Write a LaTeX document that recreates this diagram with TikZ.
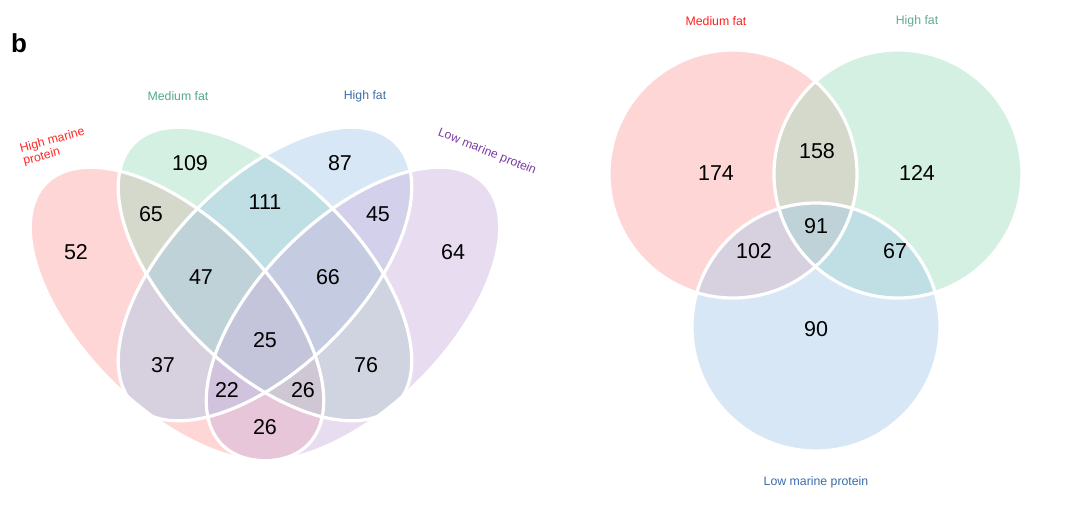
\documentclass[tikz,border=0pt]{standalone}
\usepackage{fontspec}
\setmainfont{Liberation Sans}
\usetikzlibrary{positioning}
\definecolor{hmp}{RGB}{255,165,165}
\definecolor{mfa}{RGB}{160,222,190}
\definecolor{hfa}{RGB}{166,202,232}
\definecolor{lmp}{RGB}{204,180,222}
\definecolor{hmptx}{RGB}{255,40,40}
\definecolor{mfatx}{RGB}{80,168,140}
\definecolor{hfatx}{RGB}{60,110,168}
\definecolor{lmptx}{RGB}{122,60,160}
\definecolor{rdtx}{RGB}{255,30,30}
\definecolor{grtx}{RGB}{100,170,140}
\definecolor{bltx}{RGB}{58,108,168}
\tikzset{
  st/.style={draw=white,line width=3.2pt},
  sh/.style={fill opacity=.45},
  num/.style={font=\fontsize{21.5}{24}\selectfont,inner sep=0pt},
  lb/.style={font=\fontsize{12.3}{13}\selectfont,inner sep=0pt},
  tg/.style={font=\fontsize{26}{28}\selectfont\bfseries,inner sep=0pt},
}

\begin{document}
\begin{tikzpicture}[x=1pt,y=-1pt]
\useasboundingbox (0,0) rectangle (1080,506);
\node[tg] (tag) at (19,43) {b};
% four diets
\begin{scope}
  \fill[hmp,sh,rotate around={-45:(177,314)}] (177,314) ellipse [x radius=185,y radius=94];
  \fill[mfa,sh,rotate around={-45:(265,274)}] (265,274) ellipse [x radius=185,y radius=94];
  \fill[hfa,sh,rotate around={45:(265,274)}] (265,274) ellipse [x radius=185,y radius=94];
  \fill[lmp,sh,rotate around={45:(353,314)}] (353,314) ellipse [x radius=185,y radius=94];
  \draw[st,rotate around={-45:(177,314)}] (177,314) ellipse [x radius=185,y radius=94];
  \draw[st,rotate around={-45:(265,274)}] (265,274) ellipse [x radius=185,y radius=94];
  \draw[st,rotate around={45:(265,274)}] (265,274) ellipse [x radius=185,y radius=94];
  \draw[st,rotate around={45:(353,314)}] (353,314) ellipse [x radius=185,y radius=94];
  \node[lb,text=hmptx,align=left,rotate=15] (hmpl) at (54,147) {High marine\\protein};
  \node[lb,text=mfatx] (mfal) at (178,96) {Medium fat};
  \node[lb,text=hfatx] (hfal) at (365,96) {High fat};
  \node[lb,text=lmptx,rotate=-22] (lmpl) at (487,152) {Low marine protein};
  \node[num] (n109) at (190,163) {109};
  \node[num] (n87) at (340,163) {87};
  \node[num] (n52) at (76,252) {52};
  \node[num] (n64) at (453,252) {64};
  \node[num] (n65) at (151,214) {65};
  \node[num] (n111) at (265,202) {111};
  \node[num] (n45) at (378,214) {45};
  \node[num] (n47) at (201,277) {47};
  \node[num] (n66) at (328,277) {66};
  \node[num] (n25) at (265,340) {25};
  \node[num] (n37) at (163,365) {37};
  \node[num] (n76) at (366,365) {76};
  \node[num] (n22) at (227,390) {22};
  \node[num] (n26r) at (303,390) {26};
  \node[num] (n26b) at (265,427) {26};
\end{scope}
% three diets
\begin{scope}
  \fill[hmp,sh] (733,174) circle [radius=124];
  \fill[mfa,sh] (898,174) circle [radius=124];
  \fill[hfa,sh] (816,327) circle [radius=124];
  \draw[st] (733,174) circle [radius=124];
  \draw[st] (898,174) circle [radius=124];
  \draw[st] (816,327) circle [radius=124];
  \node[lb,text=rdtx] (mfr) at (716,21) {Medium fat};
  \node[lb,text=grtx] (hfr) at (917,21) {High fat};
  \node[lb,text=bltx] (lmr) at (816,482) {Low marine protein};
  \node[num] (m174) at (716,173) {174};
  \node[num] (m158) at (817,151) {158};
  \node[num] (m124) at (917,173) {124};
  \node[num] (m91) at (816,226) {91};
  \node[num] (m102) at (754,251) {102};
  \node[num] (m67) at (895,251) {67};
  \node[num] (m90) at (816,329) {90};
\end{scope}
\end{tikzpicture}
\end{document}
